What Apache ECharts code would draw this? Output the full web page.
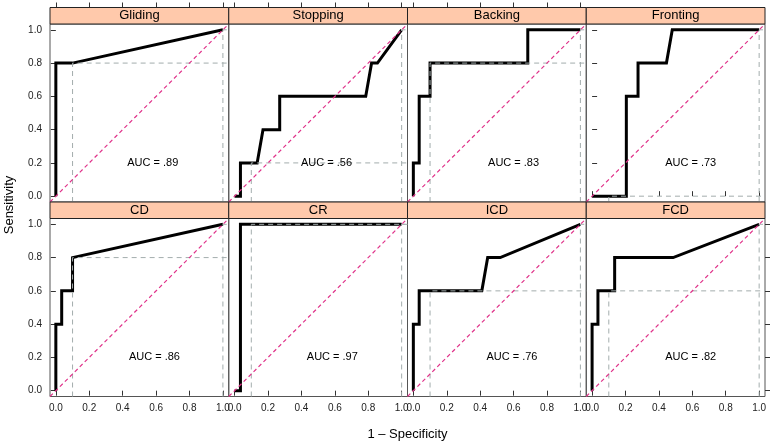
<!DOCTYPE html>
<html><head><meta charset="utf-8">
<script src="https://cdn.jsdelivr.net/npm/echarts@6/dist/echarts.min.js"></script>
<style>html,body{margin:0;padding:0;background:#fff}#c{width:774px;height:444px}</style>
</head><body><div id="c"></div>
<script>
const panelNames = ['Gliding','Stopping','Backing','Fronting','CD','CR','ICD','FCD'];
const glidingX  = [0, 0, 0.1, 1];
const glidingY  = [0, 0.8, 0.8, 1];
const stoppingX = [0, 0.035, 0.035, 0.135, 0.17, 0.27, 0.27, 0.785, 0.82, 0.855, 1];
const stoppingY = [0, 0, 0.2, 0.2, 0.4, 0.4, 0.6, 0.6, 0.8, 0.8, 1];
const backingX  = [0, 0, 0.035, 0.035, 0.1, 0.1, 0.685, 0.685, 1];
const backingY  = [0, 0.2, 0.2, 0.6, 0.6, 0.8, 0.8, 1, 1];
const frontingX = [0, 0.205, 0.205, 0.275, 0.275, 0.445, 0.48, 1];
const frontingY = [0, 0, 0.6, 0.6, 0.8, 0.8, 1, 1];
const cdX  = [0, 0, 0.035, 0.035, 0.1, 0.1, 1];
const cdY  = [0, 0.4, 0.4, 0.6, 0.6, 0.8, 1];
const crX  = [0, 0.035, 0.035, 1];
const crY  = [0, 0, 1, 1];
const icdX = [0, 0, 0.035, 0.035, 0.41, 0.445, 0.52, 1];
const icdY = [0, 0.4, 0.4, 0.6, 0.6, 0.8, 0.8, 1];
const fcdX = [0, 0, 0.035, 0.035, 0.135, 0.135, 0.485, 1];
const fcdY = [0, 0.4, 0.4, 0.6, 0.6, 0.8, 0.8, 1];
const refX = 0.1;
const refSens = [0.8, 0.2, 0.8, 0, 0.8, 1, 0.6, 0.6];
const aucLabels = ['AUC = .89','AUC = .56','AUC = .83','AUC = .73','AUC = .86','AUC = .97','AUC = .76','AUC = .82'];
const aucX = [0.58, 0.55, 0.6, 0.59, 0.59, 0.585, 0.59, 0.59];
const aucY = [0.2, 0.2, 0.2, 0.2, 0.2, 0.2, 0.2, 0.2];
const tickValues = [0, 0.2, 0.4, 0.6, 0.8, 1.0];
const tickLabels = ['0.0','0.2','0.4','0.6','0.8','1.0'];
const xTitle = '1 \u2013 Specificity';
const yTitle = 'Sensitivity';

const curvesX = [glidingX, stoppingX, backingX, frontingX, cdX, crX, icdX, fcdX];
const curvesY = [glidingY, stoppingY, backingY, frontingY, cdY, crY, icdY, fcdY];

const AMIN = -0.035, AMAX = 1.035;
const L = 50, R = 765, T = 7.5, SH = 16.5, PH = 178;
const colW = (R - L) / 4;
const FONT = 'Liberation Sans, Arial, Helvetica, sans-serif';
const fmt = v => tickLabels[tickValues.findIndex(t => Math.abs(t - v) < 1e-9)] || v.toFixed(1);

const grids = [], xAxes = [], yAxes = [], series = [], graphics = [];
panelNames.forEach((name, i) => {
  const row = Math.floor(i / 4), col = i % 4;
  const left = L + col * colW;
  const top = T + SH + row * (SH + PH);
  grids.push({left: left, top: top, width: colW, height: PH, show: true,
    borderColor: '#555', borderWidth: 1, backgroundColor: 'transparent'});
  graphics.push({type: 'rect', shape: {x: left, y: top - SH, width: colW, height: SH},
    style: {fill: '#FFC9AB', stroke: '#222', lineWidth: 1}, z: 10});
  graphics.push({type: 'text', x: left + colW / 2, y: top - SH / 2,
    style: {text: name, font: '13px ' + FONT, fill: '#000', align: 'center', verticalAlign: 'middle'}, z: 11});
  const baseX = {type: 'value', gridIndex: i, min: AMIN, max: AMAX,
    splitLine: {show: false}, axisLine: {show: false}};
  const bottomShow = row === 1;
  xAxes.push(Object.assign({}, baseX, {position: 'bottom',
    axisTick: {show: bottomShow, length: 5, lineStyle: {color: '#333'}, customValues: tickValues},
    axisLabel: {show: bottomShow, margin: 7, fontSize: 10, fontFamily: FONT, color: '#222',
      customValues: tickValues, formatter: fmt}}));
  const baseY = {type: 'value', gridIndex: i, min: AMIN, max: AMAX,
    splitLine: {show: false}, axisLine: {show: false}};
  const leftShow = col === 0;
  yAxes.push(Object.assign({}, baseY, {position: 'left',
    axisTick: {show: leftShow, length: 5, lineStyle: {color: '#333'}, customValues: tickValues},
    axisLabel: {show: leftShow, margin: 8, fontSize: 10, fontFamily: FONT, color: '#222',
      customValues: tickValues, formatter: fmt}}));
  let xIdx = xAxes.length - 1, yIdx = yAxes.length - 1;
  if (row === 0) {
    xAxes.push(Object.assign({}, baseX, {position: 'top', offset: SH,
      axisTick: {show: true, length: 5, lineStyle: {color: '#333'}, customValues: tickValues},
      axisLabel: {show: false}}));
  }
  if (col === 3) {
    yAxes.push(Object.assign({}, baseY, {position: 'right',
      axisTick: {show: true, length: 5, lineStyle: {color: '#333'}, customValues: tickValues},
      axisLabel: {show: false}}));
  }
  const common = {xAxisIndex: xIdx, yAxisIndex: yIdx, symbol: 'none', silent: true, animation: false};
  const curve = curvesX[i].map((x, k) => [x, curvesY[i][k]]);
  series.push(Object.assign({type: 'line', data: curve, z: 3,
    lineStyle: {color: '#000', width: 3, join: 'miter', cap: 'butt'}}, common));
  const s = refSens[i];
  series.push(Object.assign({type: 'line', data: [[refX, AMIN], [refX, s], [AMAX, s]], z: 4,
    lineStyle: {color: '#A3ADAD', width: 1, type: [5, 4]}}, common));
  series.push(Object.assign({type: 'line', data: [[1, AMIN], [1, 1], [AMAX, 1]], z: 4,
    lineStyle: {color: '#A3ADAD', width: 1, type: [5, 4]}}, common));
  series.push(Object.assign({type: 'line', data: [[AMIN, AMIN], [AMAX, AMAX]], z: 5,
    lineStyle: {color: '#E0338A', width: 1.2, type: [4, 3]}}, common));
  series.push(Object.assign({}, common, {type: 'scatter', data: [[aucX[i], aucY[i]]],
    symbol: 'circle', symbolSize: 1, z: 6, itemStyle: {color: '#ffffff', opacity: 1},
    label: {show: true, position: 'inside', formatter: aucLabels[i], fontSize: 11,
      fontFamily: FONT, color: '#000', textBorderWidth: 0, opacity: 1}}));
});
graphics.push({type: 'text', x: (L + R) / 2, y: 434,
  style: {text: xTitle, font: '13px ' + FONT, fill: '#000', align: 'center', verticalAlign: 'middle'}});
graphics.push({type: 'text', x: 9, y: 205, rotation: Math.PI / 2,
  style: {text: yTitle, font: '13px ' + FONT, fill: '#000', align: 'center', verticalAlign: 'middle'}});

const chart = echarts.init(document.getElementById('c'), null, {renderer: 'canvas'});
chart.setOption({animation: false, backgroundColor: '#fff', grid: grids, xAxis: xAxes, yAxis: yAxes,
  series: series, graphic: graphics});
</script></body></html>
